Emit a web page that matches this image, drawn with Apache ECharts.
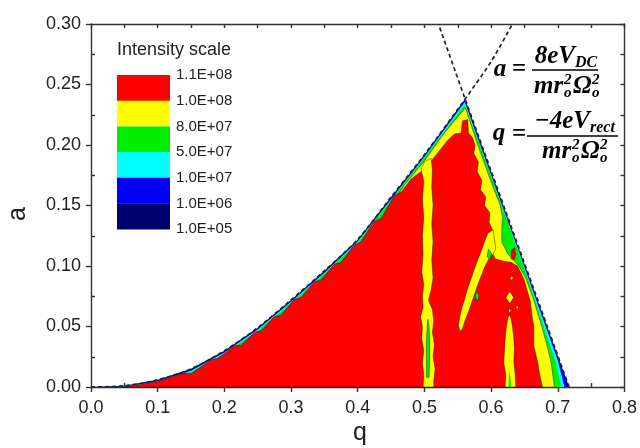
<!DOCTYPE html>
<html><head><meta charset="utf-8">
<script src="https://cdn.jsdelivr.net/npm/echarts@6/dist/echarts.min.js"></script>
<style>html,body{margin:0;padding:0;background:#fff}#c{width:640px;height:448px}</style>
</head><body><div id="c"></div>
<script>
// ---- axis ranges / tick labels ----
const qRange = [0, 0.8];
const aRange = [0, 0.3];
// ---- intensity scale legend ----
const scaleColors = ['#ff0000', '#ffff00', '#00ee00', '#00ffff', '#0000ff', '#00006e'];
const scaleLabels = ['1.1E+08', '1.0E+08', '8.0E+07', '5.0E+07', '1.0E+07', '1.0E+06', '1.0E+05'];

// ---- stability boundary (dashed) ----
const dashLeft = [[0,0],[0.05,0.001],[0.1,0.006],[0.15,0.015],[0.2,0.030],[0.25,0.049],[0.3,0.072],[0.35,0.096],[0.4,0.122],[0.45,0.157],[0.5,0.192],[0.561,0.238],[0.6,0.269],[0.632,0.3]];
const dashRight = [[0.717,0],[0.561,0.238],[0.521,0.3]];

// ---- contour regions (q, a) ----
const navyRegion = [[0,0],[0.05,0.001],[0.1,0.006],[0.15,0.015],[0.2,0.030],[0.25,0.049],[0.3,0.072],[0.35,0.096],[0.4,0.122],[0.45,0.157],[0.5,0.192],[0.561,0.238],[0.64,0.117],[0.717,0]];
const blueRegion = [[0.02,0],[0.05,0.0006],[0.1,0.0055],[0.15,0.0143],[0.2,0.0293],[0.25,0.0483],[0.3,0.0713],[0.35,0.0953],[0.4,0.1213],[0.45,0.1562],[0.5,0.1912],[0.5605,0.2368],[0.64,0.1155],[0.708,0.012],[0.714,0]];
const cyanRegion = [[0.03,0],[0.05,0.0002],[0.1,0.0048],[0.15,0.0135],[0.2,0.0285],[0.25,0.0475],[0.3,0.0705],[0.35,0.0945],[0.4,0.1205],[0.45,0.1552],[0.5,0.1902],[0.5605,0.2355],[0.60,0.175],[0.64,0.1145],[0.70,0.022],[0.710,0]];
const greenRegion = [[0.04,0],[0.05,0],[0.1,0.0035],[0.15,0.0125],[0.2,0.0275],[0.25,0.0465],[0.3,0.0695],[0.35,0.0935],[0.4,0.1195],[0.45,0.1545],[0.5,0.1895],[0.5605,0.233],[0.583,0.2],[0.6157,0.15],[0.6485,0.1],[0.679,0.05],[0.697,0.02],[0.705,0]];
const yellowRegion = [[0.06,0],[0.1,0],[0.15,0.008],[0.2,0.023],[0.25,0.042],[0.3,0.065],[0.35,0.089],[0.4,0.115],[0.45,0.150],[0.47,0.167],[0.5,0.187],[0.53,0.210],[0.56,0.230],[0.562,0.23],[0.580,0.2],[0.5996,0.17],[0.6137,0.15],[0.617,0.14],[0.616,0.13],[0.616,0.12],[0.625,0.11],[0.6415,0.10],[0.652,0.09],[0.665,0.07],[0.676,0.05],[0.684,0.034],[0.690,0.02],[0.695,0]];
const redRegion = [[0.05,0],[0.10,0.0045],[0.14,0.0115],[0.15,0.011],[0.18,0.0225],[0.19,0.0235],[0.215,0.034],[0.225,0.0345],[0.245,0.045],[0.255,0.0465],[0.275,0.058],[0.285,0.0595],[0.305,0.0725],[0.315,0.074],[0.335,0.087],[0.345,0.0885],[0.365,0.1015],[0.375,0.103],[0.395,0.1175],[0.405,0.120],[0.425,0.1375],[0.435,0.139],[0.455,0.1585],[0.465,0.161],[0.48,0.172],[0.495,0.178],[0.512,0.188],[0.525,0.197],[0.535,0.204],[0.545,0.209],[0.555,0.210],[0.557,0.220],[0.565,0.221],[0.566,0.210],[0.572,0.206],[0.576,0.200],[0.574,0.193],[0.581,0.186],[0.579,0.178],[0.586,0.171],[0.584,0.163],[0.592,0.157],[0.590,0.150],[0.598,0.144],[0.597,0.136],[0.602,0.130],[0.600,0.122],[0.601,0.112],[0.606,0.106],[0.618,0.104],[0.630,0.103],[0.6395,0.100],[0.6485,0.090],[0.654,0.080],[0.659,0.070],[0.661,0.060],[0.664,0.050],[0.664,0.034],[0.670,0.020],[0.673,0.010],[0.677,0]];
const stripeYellow = [[0.498,0],[0.499,0.01],[0.497,0.02],[0.499,0.03],[0.496,0.04],[0.497,0.05],[0.494,0.058],[0.498,0.066],[0.497,0.075],[0.499,0.085],[0.496,0.095],[0.498,0.11],[0.497,0.125],[0.499,0.14],[0.497,0.155],[0.499,0.17],[0.495,0.18],[0.500,0.186],[0.510,0.189],[0.512,0.18],[0.511,0.165],[0.513,0.15],[0.511,0.135],[0.513,0.12],[0.511,0.105],[0.513,0.09],[0.510,0.08],[0.506,0.072],[0.512,0.064],[0.514,0.055],[0.512,0.045],[0.515,0.035],[0.513,0.025],[0.516,0.015],[0.514,0.005],[0.514,0]];
const stripeGreen = [[0.503,0.008],[0.507,0.008],[0.508,0.03],[0.507,0.05],[0.505,0.056],[0.503,0.04]];
const armYellow = [[0.603,0.130],[0.595,0.127],[0.590,0.120],[0.585,0.112],[0.579,0.104],[0.574,0.096],[0.569,0.088],[0.564,0.080],[0.560,0.072],[0.556,0.065],[0.553,0.058],[0.551,0.051],[0.553,0.046],[0.557,0.048],[0.561,0.055],[0.566,0.062],[0.571,0.070],[0.576,0.078],[0.581,0.086],[0.586,0.093],[0.591,0.100],[0.597,0.106],[0.603,0.110],[0.607,0.114]];
const armGreenA = [[0.576,0.074],[0.580,0.071],[0.582,0.076],[0.578,0.079]];
const armGreenB = [[0.594,0.108],[0.598,0.105],[0.601,0.110],[0.596,0.114]];
const redIsland = [[0.630,0.106],[0.634,0.105],[0.637,0.109],[0.635,0.115],[0.631,0.113]];
const bandYellow = [[0.621,0],[0.622,0.010],[0.619,0.020],[0.620,0.030],[0.621,0.040],[0.623,0.050],[0.625,0.057],[0.628,0.060],[0.630,0.056],[0.632,0.050],[0.634,0.041],[0.635,0.031],[0.634,0.021],[0.636,0.011],[0.637,0]];
const bandGreen = [[0.626,0],[0.627,0.014],[0.629,0.008],[0.630,0]];
const diamondYellow = [[0.622,0.074],[0.628,0.079],[0.634,0.074],[0.628,0.069]];
const spotA = [[0.626,0.063],[0.628,0.065],[0.630,0.063],[0.628,0.061]];
const spotB = [[0.637,0.066],[0.639,0.068],[0.641,0.066],[0.639,0.064]];
const spotC = [[0.628,0.090],[0.631,0.092],[0.633,0.090],[0.631,0.088]];

const RED = scaleColors[0], YEL = scaleColors[1], GRN = scaleColors[2], CYN = scaleColors[3], BLU = scaleColors[4], NAV = scaleColors[5];
const regions = [
  {pts: navyRegion, fill: NAV},
  {pts: blueRegion, fill: BLU},
  {pts: cyanRegion, fill: CYN},
  {pts: greenRegion, fill: GRN},
  {pts: yellowRegion, fill: YEL, line: true},
  {pts: redRegion, fill: RED, line: true},
  {pts: stripeYellow, fill: YEL, line: true},
  {pts: stripeGreen, fill: GRN, line: true},
  {pts: armYellow, fill: YEL, line: true},
  {pts: armGreenA, fill: GRN, line: true},
  {pts: armGreenB, fill: GRN, line: true},
  {pts: redIsland, fill: RED, line: true},
  {pts: bandYellow, fill: YEL, line: true},
  {pts: bandGreen, fill: GRN},
  {pts: diamondYellow, fill: YEL, line: true},
  {pts: spotA, fill: YEL, line: true},
  {pts: spotB, fill: YEL, line: true},
  {pts: spotC, fill: YEL, line: true}
];

const chart = echarts.init(document.getElementById('c'), null, {renderer: 'canvas'});
const axisCol = '#333';
const labelFont = {fontSize: 18, color: '#222', fontFamily: 'Liberation Sans, Arial, sans-serif'};
const serif = '"Liberation Serif", "Times New Roman", serif';
function txt(s, x, y, size, align, italic) {
  return {type: 'text', x: x, y: y, z: 100, style: {text: s, fill: '#000', fontSize: size, fontWeight: 'bold', fontStyle: italic === false ? 'normal' : 'italic', fontFamily: serif, textAlign: align, textVerticalAlign: 'middle'}};
}
const graphics = [];
// legend
graphics.push({type: 'text', x: 117, y: 50, style: {text: 'Intensity scale', fill: '#222', fontSize: 18, fontFamily: 'Liberation Sans, Arial, sans-serif', textAlign: 'left', textVerticalAlign: 'middle'}});
scaleColors.forEach((c, i) => {
  graphics.push({type: 'rect', shape: {x: 117, y: 75 + i * 25.7, width: 53, height: 25.9}, style: {fill: c}});
});
scaleLabels.forEach((l, i) => {
  graphics.push({type: 'text', x: 176, y: 75 + i * 25.7, style: {text: l, fill: '#222', fontSize: 15, fontFamily: 'Liberation Sans, Arial, sans-serif', textAlign: 'left', textVerticalAlign: 'middle'}});
});
// formula a
graphics.push(txt('a', 500, 70, 25, 'center'));
graphics.push(txt('=', 519, 70, 25, 'center', false));
graphics.push(txt('8eV', 575, 57, 25, 'right'));
graphics.push(txt('DC', 575, 63, 16, 'left'));
graphics.push({type: 'line', shape: {x1: 532, y1: 70, x2: 598, y2: 70}, style: {stroke: '#000', lineWidth: 1.7}});
graphics.push(txt('mr', 534, 87, 25, 'left'));
graphics.push(txt('2', 564, 80, 15, 'left'));
graphics.push(txt('o', 564, 93, 15, 'left'));
graphics.push(txt('\u03A9', 573, 87, 25, 'left'));
graphics.push(txt('2', 592, 80, 15, 'left'));
graphics.push(txt('o', 592, 93, 15, 'left'));
// formula q
graphics.push(txt('q', 499, 134, 25, 'center'));
graphics.push(txt('=', 519, 135, 25, 'center', false));
graphics.push(txt('\u22124eV', 590, 122, 25, 'right'));
graphics.push(txt('rect', 590, 128, 16, 'left'));
graphics.push({type: 'line', shape: {x1: 527, y1: 136, x2: 618, y2: 136}, style: {stroke: '#000', lineWidth: 1.7}});
graphics.push(txt('mr', 542, 152, 25, 'left'));
graphics.push(txt('2', 572, 145, 15, 'left'));
graphics.push(txt('o', 572, 158, 15, 'left'));
graphics.push(txt('\u03A9', 581, 152, 25, 'left'));
graphics.push(txt('2', 600, 145, 15, 'left'));
graphics.push(txt('o', 600, 158, 15, 'left'));
// axis titles
graphics.push({type: 'text', x: 18, y: 214, rotation: Math.PI / 2, style: {text: 'a', fill: '#222', fontSize: 25, fontFamily: 'Liberation Sans, Arial, sans-serif', textAlign: 'center', textVerticalAlign: 'middle'}});
graphics.push({type: 'text', x: 360, y: 433, style: {text: 'q', fill: '#222', fontSize: 25, fontFamily: 'Liberation Sans, Arial, sans-serif', textAlign: 'center', textVerticalAlign: 'middle'}});

const lineStyleAxis = {color: axisCol, width: 1.4};
const option = {
  animation: false,
  backgroundColor: '#fff',
  grid: {left: 91, right: 15, top: 24, bottom: 61},
  xAxis: [
    {type: 'value', min: qRange[0], max: qRange[1], interval: 0.1, position: 'bottom',
     axisLine: {show: true, onZero: false, lineStyle: lineStyleAxis},
     axisTick: {show: true, inside: false, length: 5, lineStyle: lineStyleAxis},
     axisLabel: Object.assign({margin: 12, formatter: v => v.toFixed(1)}, labelFont),
     splitLine: {show: false}},
    {type: 'value', min: qRange[0], max: qRange[1], interval: 0.1, position: 'bottom',
     axisLine: {show: false}, axisTick: {show: false, inside: true},
     minorTick: {show: true, splitNumber: 2, length: 4, lineStyle: lineStyleAxis},
     axisLabel: {show: false}, splitLine: {show: false}},
    {type: 'value', min: qRange[0], max: qRange[1], interval: 0.05, position: 'top',
     axisLine: {show: true, onZero: false, lineStyle: lineStyleAxis},
     axisTick: {show: true, inside: true, length: 4, lineStyle: lineStyleAxis},
     axisLabel: {show: false}, splitLine: {show: false}}
  ],
  yAxis: [
    {type: 'value', min: aRange[0], max: aRange[1], interval: 0.05, position: 'left',
     axisLine: {show: true, onZero: false, lineStyle: lineStyleAxis},
     axisTick: {show: true, inside: false, length: 5, lineStyle: lineStyleAxis},
     axisLabel: Object.assign({margin: 10, formatter: v => v.toFixed(2)}, labelFont),
     splitLine: {show: false}},
    {type: 'value', min: aRange[0], max: aRange[1], interval: 0.05, position: 'left',
     axisLine: {show: false}, axisTick: {show: false, inside: true},
     minorTick: {show: true, splitNumber: 2, length: 4, lineStyle: lineStyleAxis},
     axisLabel: {show: false}, splitLine: {show: false}},
    {type: 'value', min: aRange[0], max: aRange[1], interval: 0.025, position: 'right',
     axisLine: {show: true, onZero: false, lineStyle: lineStyleAxis},
     axisTick: {show: true, inside: true, length: 4, lineStyle: lineStyleAxis},
     axisLabel: {show: false}, splitLine: {show: false}}
  ],
  series: [
    {type: 'custom', xAxisIndex: 0, yAxisIndex: 0, silent: true, z: 2,
     data: regions.map((r, i) => [0.4, 0.1, i]),
     renderItem: function (params, api) {
       const r = regions[params.dataIndex];
       return {type: 'polygon', shape: {points: r.pts.map(p => api.coord(p))},
               style: {fill: r.fill, stroke: r.line ? 'rgba(20,20,20,0.65)' : null, lineWidth: r.line ? 0.7 : 0}};
     }},
    {type: 'line', xAxisIndex: 0, yAxisIndex: 0, data: dashLeft, showSymbol: false, smooth: 0.3, z: 5, silent: true,
     lineStyle: {color: '#222', width: 1.7, type: [4, 3]}},
    {type: 'line', xAxisIndex: 0, yAxisIndex: 0, data: dashRight, showSymbol: false, z: 5, silent: true,
     lineStyle: {color: '#222', width: 1.7, type: [4, 3]}}
  ],
  graphic: graphics
};
chart.setOption(option);
</script>
</body></html>
